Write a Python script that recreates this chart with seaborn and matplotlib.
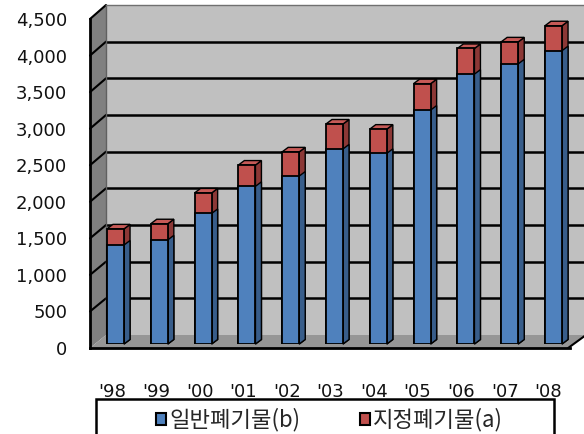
import numpy as np
import pandas as pd
import matplotlib
matplotlib.use("Agg")
import matplotlib.pyplot as plt
import seaborn as sns
from matplotlib.patches import Polygon, Rectangle, Patch
from matplotlib.lines import Line2D
from matplotlib.font_manager import FontProperties

# ---------------- data ----------------
years = ["'98", "'99", "'00", "'01", "'02", "'03", "'04", "'05", "'06", "'07", "'08"]
general = [1350, 1420, 1780, 2150, 2290, 2660, 2600, 3190, 3680, 3820, 4000]      # 일반폐기물(b)
designated = [220, 220, 280, 290, 330, 340, 330, 360, 350, 300, 340]             # 지정폐기물(a)
yticks = [0, 500, 1000, 1500, 2000, 2500, 3000, 3500, 4000, 4500]
ytick_labels = ["0", "500", "1,000", "1,500", "2,000", "2,500", "3,000", "3,500", "4,000", "4,500"]
series_names = ["일반폐기물(b)", "지정폐기물(a)"]

# ---------------- style ----------------
BLUE, BLUE_SIDE = "#4F81BD", "#385D8A"
RED, RED_SIDE, RED_TOP = "#C0504D", "#8C3836", "#C65A57"
WALL, SIDEWALL, FLOOR = "#C0C0C0", "#808080", "#969696"

sns.set_theme(style="white")
plt.rcParams['font.family'] = ['DejaVu Sans']

W, H = 584, 434
fig = plt.figure(figsize=(W / 100, H / 100), dpi=100)
fig.patch.set_facecolor("white")


def rect(x0, y_top, x1, y_bot):
    return [x0 / W, 1 - y_bot / H, (x1 - x0) / W, (y_bot - y_top) / H]


ax_back = fig.add_axes(rect(106, 5, 586, 335))
ax_bar = fig.add_axes(rect(106, 14, 586, 344))
ax_front = fig.add_axes(rect(90, 19, 570, 348))

YMAX = 4500
# back wall
ax_back.set_facecolor(WALL)
ax_back.set_xlim(0, 1)
ax_back.set_ylim(0, YMAX)
ax_back.set_yticks(yticks[1:-1])
ax_back.set_xticks([])
ax_back.tick_params(left=False, labelleft=False, bottom=False, labelbottom=False)
ax_back.grid(axis='y', color='black', linewidth=1.8)
for s in ["right", "bottom"]:
    ax_back.spines[s].set_visible(False)
ax_back.spines["top"].set_color("#707070")
ax_back.spines["top"].set_linewidth(1)
ax_back.spines["left"].set_color("#606060")
ax_back.spines["left"].set_linewidth(1)

# bars (front faces)
totals = list(np.add(general, designated))
df = pd.DataFrame({"year": years, "general": general, "total": totals})
sns.barplot(data=df, x="year", y="total", color=RED, saturation=1, width=0.39,
            edgecolor="black", linewidth=1.3, errorbar=None, ax=ax_bar)
sns.barplot(data=df, x="year", y="general", color=BLUE, saturation=1, width=0.39,
            edgecolor="black", linewidth=1.3, errorbar=None, ax=ax_bar)
PX = 43.8
bx0 = -(115.5 - 106) / PX
ax_bar.set_xlim(bx0, bx0 + 480 / PX)
ax_bar.set_ylim(0, YMAX)
ax_bar.axis("off")

# 3D side / top faces derived from the bar patches
dx = 6 / PX
dy = 4.5 * YMAX / 330
n = len(years)
bars = list(ax_bar.patches)
for i, p in enumerate(bars):
    x0, w, h = p.get_x(), p.get_width(), p.get_height()
    is_red = i < n
    side = Polygon([(x0 + w, 0), (x0 + w + dx, dy), (x0 + w + dx, h + dy), (x0 + w, h)],
                   closed=True, fc=RED_SIDE if is_red else BLUE_SIDE, ec="black", lw=1.0,
                   zorder=0.9 if is_red else 0.95, clip_on=False)
    ax_bar.add_patch(side)
    if is_red:
        top = Polygon([(x0, h), (x0 + dx, h + dy), (x0 + w + dx, h + dy), (x0 + w, h)],
                      closed=True, fc=RED_TOP, ec="black", lw=1.0, zorder=0.9, clip_on=False)
        ax_bar.add_patch(top)

# front plane axes (labels)
PXF = 43.74
fx0 = -(112.6 - 90) / PXF
fx1 = fx0 + 480 / PXF
ax_front.set_facecolor("none")
ax_front.set_xlim(fx0, fx1)
ax_front.set_ylim(0, YMAX)
ax_front.set_yticks(yticks)
ax_front.set_yticklabels(ytick_labels)
ax_front.set_xticks(range(n))
ax_front.set_xticklabels(years)
ax_front.set_xticks(np.arange(-0.5, n, 1), minor=True)
ax_front.tick_params(axis='y', length=0, pad=16.5, labelsize=13, colors="#111111")
ax_front.tick_params(axis='x', which='major', length=0, pad=25, labelsize=13, colors="#111111")
ax_front.tick_params(axis='x', which='minor', length=4, width=1.5, direction='out', color='black')
for s in ["top", "right"]:
    ax_front.spines[s].set_visible(False)
ax_front.spines["bottom"].set_color("black")
ax_front.spines["bottom"].set_linewidth(2)
ax_front.spines["left"].set_color("black")
ax_front.spines["left"].set_linewidth(2)

# walls / floor geometry from axes transforms
inv = fig.transFigure.inverted()


def to_fig(ax, pt):
    return inv.transform(ax.transData.transform(pt))


bt = to_fig(ax_back, (0, YMAX))
bb = to_fig(ax_back, (0, 0))
br = to_fig(ax_back, (1, 0))
ft = to_fig(ax_front, (fx0, YMAX))
fb = to_fig(ax_front, (fx0, 0))
fr_ = to_fig(ax_front, (fx1, 0))

fig.add_artist(Polygon([bt, bb, fb, ft], closed=True, transform=fig.transFigure,
                       fc=SIDEWALL, ec="none", zorder=-1))
fig.add_artist(Polygon([bb, br, fr_, fb], closed=True, transform=fig.transFigure,
                       fc=FLOOR, ec="none", zorder=-1))
for v in yticks[1:]:
    a = to_fig(ax_back, (0, v))
    b = to_fig(ax_front, (fx0, v))
    fig.add_artist(Line2D([a[0], b[0]], [a[1], b[1]], transform=fig.transFigure,
                          color="black", lw=1.5, zorder=-0.5))
fig.add_artist(Line2D([fr_[0], br[0]], [fr_[1], br[1]], transform=fig.transFigure,
                      color="black", lw=1.5, zorder=-0.5))

# legend
box = Rectangle((96 / W, 1 - 452 / H), (554 - 96) / W, (452 - 399) / H,
                transform=fig.transFigure, fc="white", ec="black", lw=1.8, zorder=3)
fig.add_artist(box)
handles = [Patch(fc=BLUE, ec="black", lw=1.5), Patch(fc=RED, ec="black", lw=1.5)]
fig.legend(handles, series_names, loc="center", bbox_to_anchor=(329.5 / W, 1 - 420 / H),
           ncol=2, frameon=False,
           prop=FontProperties(family=["Noto Sans CJK KR", "DejaVu Sans"], size=16),
           handlelength=0.45, handleheight=0.45, handletextpad=0.15,
           columnspacing=2.66, borderpad=0, borderaxespad=0)

fig.savefig("out.png", dpi=100)
